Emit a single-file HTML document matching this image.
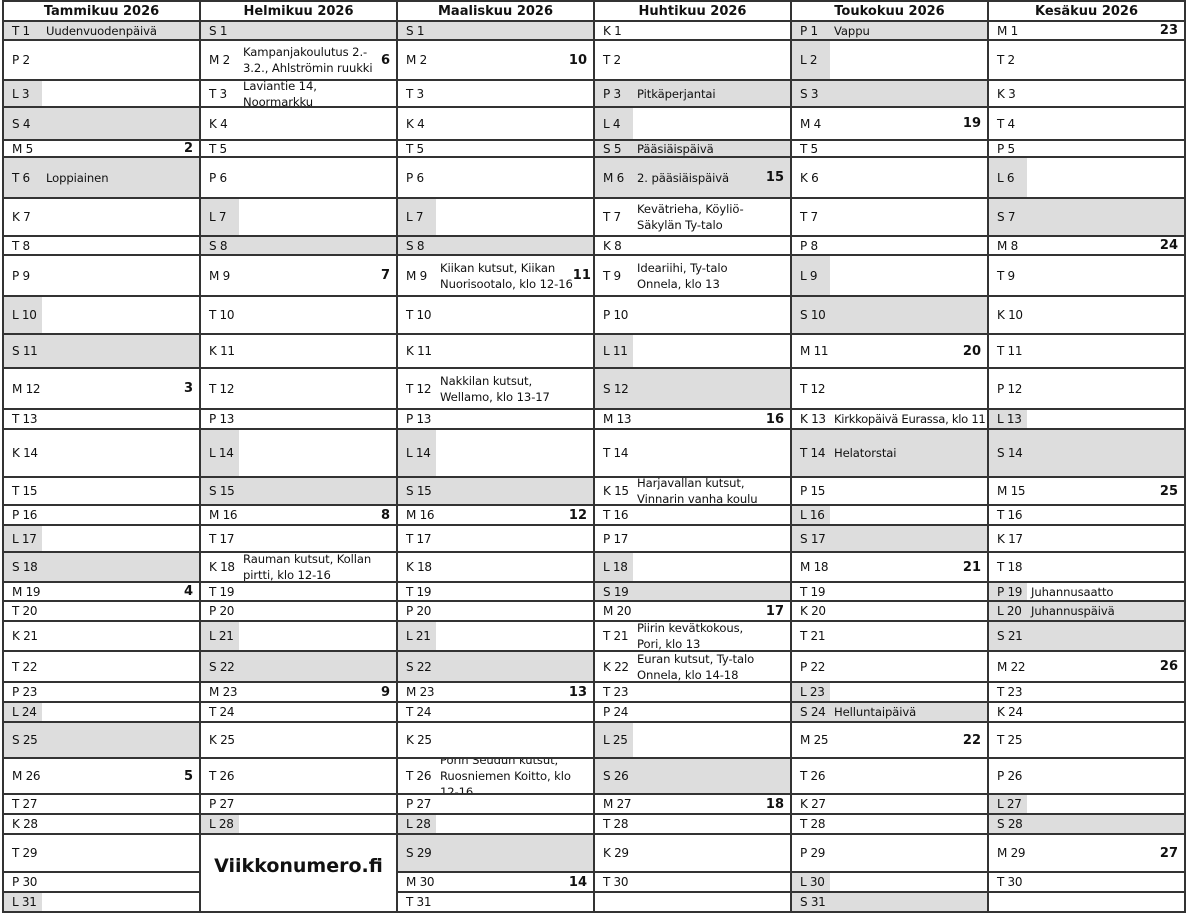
<!DOCTYPE html>
<html><head><meta charset="utf-8">
<style>
body{margin:0;width:1200px;height:913px;background:#fff;position:relative;overflow:hidden;font-family:"DejaVu Sans","Liberation Sans",sans-serif;color:#111}
#g{position:absolute;left:2px;top:0;width:1182px;border-left:2px solid #333;border-top:2px solid #333}
.r{display:flex;border-bottom:2px solid #333;box-sizing:border-box}
.r>div{width:197px;flex:none;box-sizing:border-box;border-right:2px solid #333;display:flex;align-items:center;overflow:hidden;padding-left:8px;font-size:12px;white-space:nowrap}
.h>div{justify-content:center;font-weight:bold;font-size:13px;padding-left:0}
.r>div>b{font-weight:normal;width:34px;flex:none;font-size:12px;letter-spacing:-0.3px}
.r>div>i{font-style:normal;flex:1;line-height:16px;font-size:11.6px;letter-spacing:-0.1px;white-space:nowrap;overflow:visible}
.r>div>u{text-decoration:none;font-weight:bold;font-size:13px;margin-left:auto;padding-right:6px}
.r>div.s{background:#ddd}
.r>div.l{background:linear-gradient(90deg,#ddd 38px,#fff 38px)}
#vn{position:absolute;left:200px;top:855px;width:197px;text-align:center;font-weight:bold;font-size:19px}
</style></head><body>
<div id="g">
<div class="r h" style="height:20px"><div>Tammikuu 2026</div><div>Helmikuu 2026</div><div>Maaliskuu 2026</div><div>Huhtikuu 2026</div><div>Toukokuu 2026</div><div>Kesäkuu 2026</div></div>
<div class="r" style="height:19px"><div class="s"><b>T 1</b><i>Uudenvuodenpäivä</i></div><div class="s"><b>S 1</b></div><div class="s"><b>S 1</b></div><div><b>K 1</b></div><div class="s"><b>P 1</b><i>Vappu</i></div><div><b>M 1</b><u>23</u></div></div>
<div class="r" style="height:40px"><div><b>P 2</b></div><div><b>M 2</b><i>Kampanjakoulutus 2.-<br>3.2., Ahlströmin ruukki</i><u>6</u></div><div><b>M 2</b><u>10</u></div><div><b>T 2</b></div><div class="l"><b>L 2</b></div><div><b>T 2</b></div></div>
<div class="r" style="height:27px"><div class="l"><b>L 3</b></div><div><b>T 3</b><i>Laviantie 14,<br>Noormarkku</i></div><div><b>T 3</b></div><div class="s"><b>P 3</b><i>Pitkäperjantai</i></div><div class="s"><b>S 3</b></div><div><b>K 3</b></div></div>
<div class="r" style="height:33px"><div class="s"><b>S 4</b></div><div><b>K 4</b></div><div><b>K 4</b></div><div class="l"><b>L 4</b></div><div><b>M 4</b><u>19</u></div><div><b>T 4</b></div></div>
<div class="r" style="height:17px"><div><b>M 5</b><u>2</u></div><div><b>T 5</b></div><div><b>T 5</b></div><div class="s"><b>S 5</b><i>Pääsiäispäivä</i></div><div><b>T 5</b></div><div><b>P 5</b></div></div>
<div class="r" style="height:41px"><div class="s"><b>T 6</b><i>Loppiainen</i></div><div><b>P 6</b></div><div><b>P 6</b></div><div class="s"><b>M 6</b><i>2. pääsiäispäivä</i><u>15</u></div><div><b>K 6</b></div><div class="l"><b>L 6</b></div></div>
<div class="r" style="height:38px"><div><b>K 7</b></div><div class="l"><b>L 7</b></div><div class="l"><b>L 7</b></div><div><b>T 7</b><i>Kevätrieha, Köyliö-<br>Säkylän Ty-talo</i></div><div><b>T 7</b></div><div class="s"><b>S 7</b></div></div>
<div class="r" style="height:19px"><div><b>T 8</b></div><div class="s"><b>S 8</b></div><div class="s"><b>S 8</b></div><div><b>K 8</b></div><div><b>P 8</b></div><div><b>M 8</b><u>24</u></div></div>
<div class="r" style="height:41px"><div><b>P 9</b></div><div><b>M 9</b><u>7</u></div><div><b>M 9</b><i>Kiikan kutsut, Kiikan<br>Nuorisootalo, klo 12-16</i><u>11</u></div><div><b>T 9</b><i>Ideariihi, Ty-talo<br>Onnela, klo 13</i></div><div class="l"><b>L 9</b></div><div><b>T 9</b></div></div>
<div class="r" style="height:38px"><div class="l"><b>L 10</b></div><div><b>T 10</b></div><div><b>T 10</b></div><div><b>P 10</b></div><div class="s"><b>S 10</b></div><div><b>K 10</b></div></div>
<div class="r" style="height:34px"><div class="s"><b>S 11</b></div><div><b>K 11</b></div><div><b>K 11</b></div><div class="l"><b>L 11</b></div><div><b>M 11</b><u>20</u></div><div><b>T 11</b></div></div>
<div class="r" style="height:41px"><div><b>M 12</b><u>3</u></div><div><b>T 12</b></div><div><b>T 12</b><i>Nakkilan kutsut,<br>Wellamo, klo 13-17</i></div><div class="s"><b>S 12</b></div><div><b>T 12</b></div><div><b>P 12</b></div></div>
<div class="r" style="height:20px"><div><b>T 13</b></div><div><b>P 13</b></div><div><b>P 13</b></div><div><b>M 13</b><u>16</u></div><div><b>K 13</b><i style="letter-spacing:-0.3px">Kirkkopäivä Eurassa, klo 11</i></div><div class="l"><b>L 13</b></div></div>
<div class="r" style="height:48px"><div><b>K 14</b></div><div class="l"><b>L 14</b></div><div class="l"><b>L 14</b></div><div><b>T 14</b></div><div class="s"><b>T 14</b><i>Helatorstai</i></div><div class="s"><b>S 14</b></div></div>
<div class="r" style="height:28px"><div><b>T 15</b></div><div class="s"><b>S 15</b></div><div class="s"><b>S 15</b></div><div><b>K 15</b><i>Harjavallan kutsut,<br>Vinnarin vanha koulu</i></div><div><b>P 15</b></div><div><b>M 15</b><u>25</u></div></div>
<div class="r" style="height:20px"><div><b>P 16</b></div><div><b>M 16</b><u>8</u></div><div><b>M 16</b><u>12</u></div><div><b>T 16</b></div><div class="l"><b>L 16</b></div><div><b>T 16</b></div></div>
<div class="r" style="height:27px"><div class="l"><b>L 17</b></div><div><b>T 17</b></div><div><b>T 17</b></div><div><b>P 17</b></div><div class="s"><b>S 17</b></div><div><b>K 17</b></div></div>
<div class="r" style="height:30px"><div class="s"><b>S 18</b></div><div><b>K 18</b><i>Rauman kutsut, Kollan<br>pirtti, klo 12-16</i></div><div><b>K 18</b></div><div class="l"><b>L 18</b></div><div><b>M 18</b><u>21</u></div><div><b>T 18</b></div></div>
<div class="r" style="height:19px"><div><b>M 19</b><u>4</u></div><div><b>T 19</b></div><div><b>T 19</b></div><div class="s"><b>S 19</b></div><div><b>T 19</b></div><div class="l"><b>P 19</b><i>Juhannusaatto</i></div></div>
<div class="r" style="height:20px"><div><b>T 20</b></div><div><b>P 20</b></div><div><b>P 20</b></div><div><b>M 20</b><u>17</u></div><div><b>K 20</b></div><div class="s"><b>L 20</b><i>Juhannuspäivä</i></div></div>
<div class="r" style="height:30px"><div><b>K 21</b></div><div class="l"><b>L 21</b></div><div class="l"><b>L 21</b></div><div><b>T 21</b><i>Piirin kevätkokous,<br>Pori, klo 13</i></div><div><b>T 21</b></div><div class="s"><b>S 21</b></div></div>
<div class="r" style="height:31px"><div><b>T 22</b></div><div class="s"><b>S 22</b></div><div class="s"><b>S 22</b></div><div><b>K 22</b><i>Euran kutsut, Ty-talo<br>Onnela, klo 14-18</i></div><div><b>P 22</b></div><div><b>M 22</b><u>26</u></div></div>
<div class="r" style="height:20px"><div><b>P 23</b></div><div><b>M 23</b><u>9</u></div><div><b>M 23</b><u>13</u></div><div><b>T 23</b></div><div class="l"><b>L 23</b></div><div><b>T 23</b></div></div>
<div class="r" style="height:20px"><div class="l"><b>L 24</b></div><div><b>T 24</b></div><div><b>T 24</b></div><div><b>P 24</b></div><div class="s"><b>S 24</b><i>Helluntaipäivä</i></div><div><b>K 24</b></div></div>
<div class="r" style="height:36px"><div class="s"><b>S 25</b></div><div><b>K 25</b></div><div><b>K 25</b></div><div class="l"><b>L 25</b></div><div><b>M 25</b><u>22</u></div><div><b>T 25</b></div></div>
<div class="r" style="height:36px"><div><b>M 26</b><u>5</u></div><div><b>T 26</b></div><div><b>T 26</b><i>Porin Seudun kutsut,<br>Ruosniemen Koitto, klo<br>12-16</i></div><div class="s"><b>S 26</b></div><div><b>T 26</b></div><div><b>P 26</b></div></div>
<div class="r" style="height:20px"><div><b>T 27</b></div><div><b>P 27</b></div><div><b>P 27</b></div><div><b>M 27</b><u>18</u></div><div><b>K 27</b></div><div class="l"><b>L 27</b></div></div>
<div class="r" style="height:20px"><div><b>K 28</b></div><div class="l"><b>L 28</b></div><div class="l"><b>L 28</b></div><div><b>T 28</b></div><div><b>T 28</b></div><div class="s"><b>S 28</b></div></div>
<div class="r" style="height:38px;border-bottom:none"><div style="border-bottom:2px solid #333"><b>T 29</b></div><div></div><div class="s" style="border-bottom:2px solid #333"><b>S 29</b></div><div style="border-bottom:2px solid #333"><b>K 29</b></div><div style="border-bottom:2px solid #333"><b>P 29</b></div><div style="border-bottom:2px solid #333"><b>M 29</b><u>27</u></div></div>
<div class="r" style="height:20px;border-bottom:none"><div style="border-bottom:2px solid #333"><b>P 30</b></div><div></div><div style="border-bottom:2px solid #333"><b>M 30</b><u>14</u></div><div style="border-bottom:2px solid #333"><b>T 30</b></div><div class="l" style="border-bottom:2px solid #333"><b>L 30</b></div><div style="border-bottom:2px solid #333"><b>T 30</b></div></div>
<div class="r" style="height:20px"><div class="l"><b>L 31</b></div><div></div><div><b>T 31</b></div><div></div><div class="s"><b>S 31</b></div><div></div></div>
</div>
<div id="vn">Viikkonumero.fi</div>
</body></html>
